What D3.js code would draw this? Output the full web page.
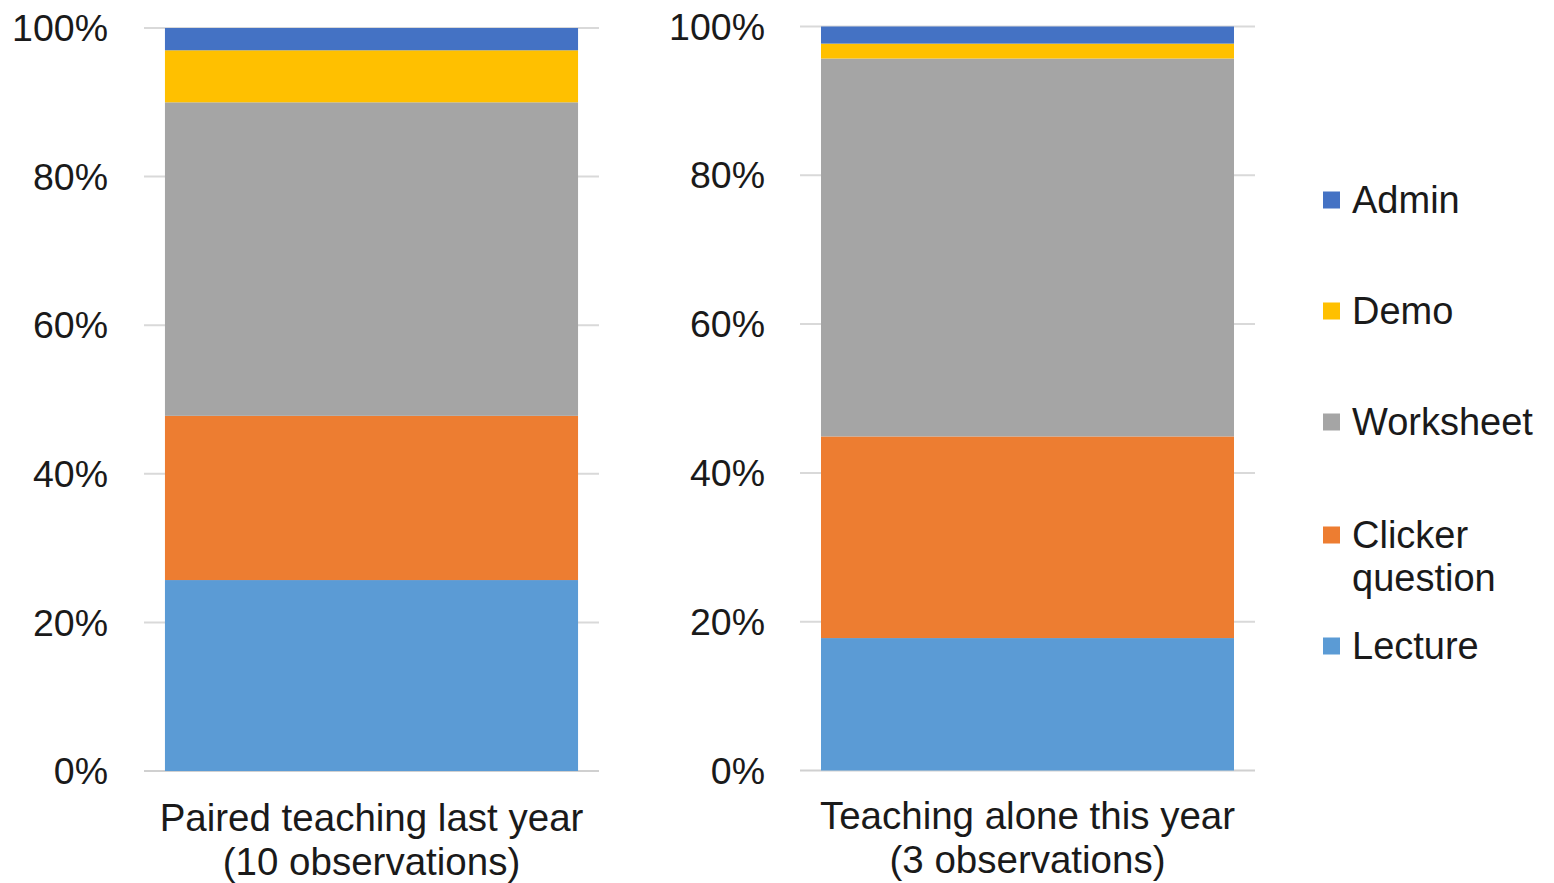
<!DOCTYPE html>
<html><head><meta charset="utf-8">
<script src="https://cdn.jsdelivr.net/npm/d3@7"></script>
<style>body{margin:0;background:#fff;} svg{display:block;font-family:"Liberation Sans",Arial,sans-serif;}</style>
</head><body>
<svg id="c" width="1554" height="883"></svg>
<script>
const series = ["Lecture","Clicker question","Worksheet","Demo","Admin"];
const colors = ["#5B9BD5","#ED7D31","#A5A5A5","#FFC000","#4472C4"];
const groups = [["Paired teaching last year","(10 observations)"],["Teaching alone this year","(3 observations)"]];
const lecture = [25.7, 17.8];
const clicker = [22.1, 27.1];
const worksheet = [42.2, 50.8];
const demo = [7.0, 2.0];
const admin = [3.0, 2.3];
const yTicks = [0,20,40,60,80,100];
const legendOrder = ["Admin","Demo","Worksheet","Clicker question","Lecture"];

const svg = d3.select("#c");
const valuesBySeries = [lecture, clicker, worksheet, demo, admin];

const panels = [
  {gx0:144, gx1:599, bx0:165, bx1:579, y0:771, y1:28, labX:108, catY:818},
  {gx0:800, gx1:1255, bx0:821, bx1:1234, y0:770.5, y1:26.5, labX:765, catY:816}
];

panels.forEach((p,gi)=>{
  const y = d3.scaleLinear().domain([0,100]).range([p.y0,p.y1]);
  const x = d3.scaleBand().domain([groups[gi][0]]).range([p.gx0,p.gx1]).paddingInner(0).paddingOuter((p.bx0-p.gx0)/(p.bx1-p.bx0));
  const g = svg.append("g");
  g.selectAll("line.grid").data(yTicks).join("line")
    .attr("x1",p.gx0).attr("x2",p.gx1)
    .attr("y1",d=>y(d)).attr("y2",d=>y(d))
    .attr("stroke",d=>d===0?"#d0d0d0":"#d9d9d9").attr("stroke-width",2);
  g.selectAll("text.tick").data(yTicks).join("text")
    .attr("x",p.labX).attr("y",d=>y(d)).attr("dy","0.35em")
    .attr("text-anchor","end").attr("font-size",37.5).attr("fill","#1a1a1a")
    .text(d=>d+"%");
  let cum = 0;
  series.forEach((s,si)=>{
    const v = valuesBySeries[si][gi];
    g.append("rect")
      .attr("x",x(groups[gi][0])).attr("width",x.bandwidth())
      .attr("y",y(cum+v)).attr("height",y(cum)-y(cum+v))
      .attr("fill",colors[si]);
    cum += v;
  });
  const cx = x(groups[gi][0]) + x.bandwidth()/2;
  const t = g.append("text").attr("text-anchor","middle").attr("font-size",38.5).attr("fill","#1a1a1a");
  groups[gi].forEach((line,li)=>{
    t.append("tspan").attr("x",cx).attr("y",p.catY+li*44).attr("dy","0.35em").text(line);
  });
});

const legY = {"Admin":[200],"Demo":[311],"Worksheet":[422],"Clicker question":[535,578],"Lecture":[646]};
const lg = svg.append("g");
legendOrder.forEach(name=>{
  const si = series.indexOf(name);
  const ys = legY[name];
  lg.append("rect").attr("x",1323).attr("y",ys[0]-8.5).attr("width",17).attr("height",17).attr("fill",colors[si]);
  const t = lg.append("text").attr("font-size",38).attr("fill","#1a1a1a");
  const words = name==="Clicker question" ? ["Clicker","question"] : [name];
  words.forEach((w,i)=>t.append("tspan").attr("x",1352).attr("y",ys[i]).attr("dy","0.35em").text(w));
});
</script>
</body></html>
